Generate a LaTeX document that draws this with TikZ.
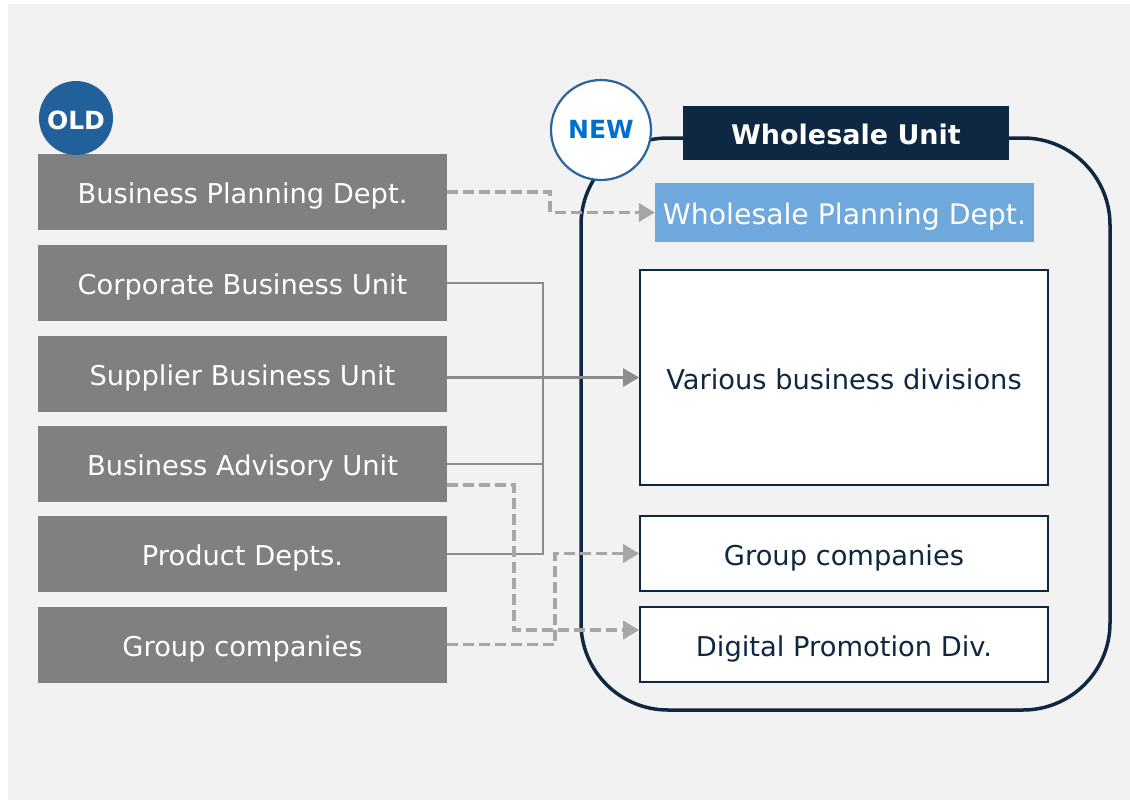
\documentclass[tikz,border=0pt]{standalone}
\usepackage{fontspec}
\setmainfont{DejaVu Sans}
\usetikzlibrary{arrows.meta}
\definecolor{bgc}{HTML}{F2F2F2}
\definecolor{oldbox}{HTML}{808080}
\definecolor{navy}{HTML}{0F2841}
\definecolor{oldblue}{HTML}{22609B}
\definecolor{newblue}{HTML}{0070D0}
\definecolor{newring}{HTML}{2A64A0}
\definecolor{lblue}{HTML}{6FA8DC}
\definecolor{dashc}{HTML}{A6A6A6}
\definecolor{linec}{HTML}{8C8C8C}
\begin{document}
\begin{tikzpicture}[x=1pt,y=-1pt,
  txt/.style={text height=23pt, text depth=0pt, font=\fontsize{27.3}{32}\selectfont},
  oldrow/.style={txt, fill=oldbox, text=white, minimum width=409pt, minimum height=76pt, inner sep=0pt},
  newrow/.style={txt, fill=white, draw=navy, line width=1.6pt, text=navy, minimum width=408pt, inner sep=0pt},
  dconn/.style={draw=dashc, line width=3.6pt, dash pattern=on 11pt off 5pt, -{Triangle[length=16pt,width=18pt]}},
  sline/.style={draw=linec, line width=2.4pt},
  sconn/.style={draw=linec, line width=2.4pt, -{Triangle[length=16pt,width=18pt]}}
]
\useasboundingbox (0,0) rectangle (1130,801);
\fill[white] (0,0) rectangle (1130,801);
\fill[bgc] (8,4) rectangle (1130,800);

% container
\draw[navy, line width=3.5pt, rounded corners=87pt] (581,138) rectangle (1110,710);

% old boxes
\node[oldrow] (bp)  at (242.5,192)   {Business Planning Dept.};
\node[oldrow] (corp) at (242.5,283)  {Corporate Business Unit};
\node[oldrow] (sup) at (242.5,373.5) {Supplier Business Unit};
\node[oldrow] (adv) at (242.5,464)   {Business Advisory Unit};
\node[oldrow] (prod) at (242.5,554)  {Product Depts.};
\node[oldrow] (gco) at (242.5,644.5) {Group companies};

\node[circle, fill=oldblue, text=white, minimum size=74pt, inner sep=0pt, text height=22pt, text depth=0pt, font=\bfseries\fontsize{25}{30}\selectfont] (old) at (76,118) {OLD};

% new
\node[circle, fill=white, draw=newring, line width=2.2pt, text=newblue, minimum size=100pt, inner sep=0pt, text height=17pt, text depth=0pt, font=\bfseries\fontsize{25}{30}\selectfont] (new) at (601,130) {NEW};
\node[fill=navy, text=white, minimum width=326pt, minimum height=54pt, inner sep=0pt, text height=22pt, text depth=0pt, font=\bfseries\fontsize{27}{32}\selectfont] (wu) at (846,133) {Wholesale Unit};
\node[fill=lblue, text=white, minimum width=379pt, minimum height=59pt, inner sep=0pt, text height=23pt, text depth=0pt, font=\fontsize{28.3}{33}\selectfont] (wpd) at (844.5,212.5) {Wholesale Planning Dept.};
\node[newrow, minimum height=215pt] (var) at (844,377.5) {Various business divisions};
\node[newrow, minimum height=75pt] (gcr) at (844,553.5) {Group companies};
\node[newrow, minimum height=75pt] (dpd) at (844,644.5) {Digital Promotion Div.};

% connectors
\coordinate (bus) at (543,0);
\draw[sline] (corp.east) -- (corp.east -| bus) -- (prod.east -| bus) -- (prod.east);
\draw[sline] (adv.east) -- (adv.east -| bus);
\draw[sconn] (var.west -| sup.east) -- (var.west);

\draw[dconn] (bp.east) -- ++(103,0) |- (wpd.west);
\draw[dconn] ([yshift=-21pt]adv.east) -- ++(67,0) |- ([yshift=14.5pt]dpd.west);
\draw[dconn] (gco.east) -- ++(108,0) |- (gcr.west);
\end{tikzpicture}
\end{document}
